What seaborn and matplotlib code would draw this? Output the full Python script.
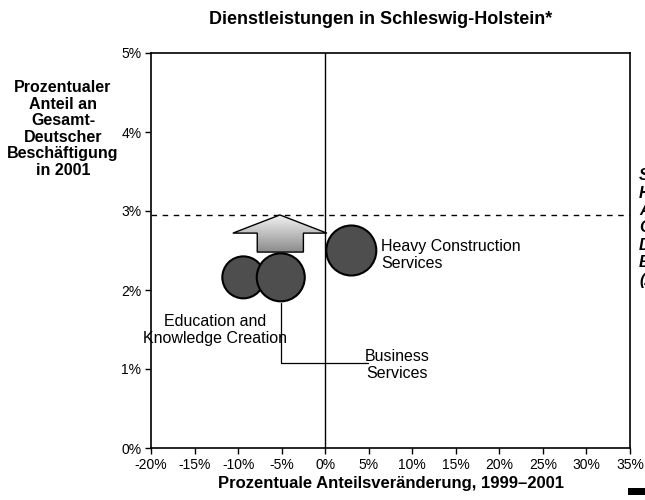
import numpy as np
import pandas as pd
import matplotlib
matplotlib.use("Agg")
import matplotlib.pyplot as plt
from matplotlib.patches import Polygon, Rectangle
from matplotlib.ticker import FuncFormatter
import seaborn as sns

# ---- data ----
clusters = ["Education and\nKnowledge Creation", "Business\nServices", "Heavy Construction\nServices"]
growth = [-9.4, -5.1, 3.0]          # % change in share, 1999-2001
share = [2.16, 2.16, 2.50]          # % of total German employment, 2001
employment = [70, 92, 100]          # relative bubble weight
avg_share = 2.95                    # Schleswig-Holstein overall share
x_ticks = [-20, -15, -10, -5, 0, 5, 10, 15, 20, 25, 30, 35]
y_ticks = [0, 1, 2, 3, 4, 5]

df = pd.DataFrame({"cluster": clusters, "growth": growth, "share": share, "employment": employment})

sns.set_style("white")
plt.rcParams["font.family"] = ["Liberation Sans", "DejaVu Sans"]
plt.rcParams["text.color"] = "black"
plt.rcParams["axes.labelcolor"] = "black"
plt.rcParams["xtick.color"] = "black"
plt.rcParams["ytick.color"] = "black"

fig = plt.figure(figsize=(6.45, 5.0), dpi=100)
ax = fig.add_axes([151 / 645, 1 - 448 / 500, (630 - 151) / 645, (448 - 53) / 500])

ax.set_xlim(-20, 35)
ax.set_ylim(0, 5)

# reference lines
ax.axvline(0, color="black", lw=1.0, zorder=1)
ax.axhline(avg_share, color="black", lw=1.0, ls=(0, (4, 4)), zorder=1)

# gradient arrow (upward)
arrow_pts = [(-7.8, 2.48), (-7.8, 2.72), (-10.6, 2.72), (-5.2, avg_share),
             (0.2, 2.72), (-2.5, 2.72), (-2.5, 2.48)]
poly = Polygon(arrow_pts, closed=True, facecolor="none", edgecolor="black", lw=1.0, zorder=2)
ax.add_patch(poly)
grad = np.linspace(0, 1, 100).reshape(-1, 1)
im = ax.imshow(grad, cmap=matplotlib.colors.LinearSegmentedColormap.from_list("g", ["#8c8c8c", "#f4f4f4"]),
               extent=(-10.6, 0.2, 2.48, avg_share), origin="lower", aspect="auto", zorder=1.5)
im.set_clip_path(poly)

# bubbles
sns.scatterplot(data=df, x="growth", y="share", size="employment", sizes=(913, 1296),
                color="#4e4e4e", edgecolor="black", linewidth=1.5, legend=False, ax=ax, zorder=3)

ax.set_xlim(-20, 35)
ax.set_ylim(0, 5)

# labels
lab_fs = 11.5
ax.text(6.4, 2.44, clusters[2], ha="left", va="center", fontsize=lab_fs, linespacing=1.15)
ax.text(-12.6, 1.49, clusters[0], ha="center", va="center", fontsize=lab_fs, linespacing=1.15)
ax.text(8.3, 1.05, clusters[1], ha="center", va="center", fontsize=lab_fs, linespacing=1.15)
ax.plot([growth[1], growth[1], 4.9], [1.84, 1.08, 1.08], color="black", lw=0.9, zorder=2)

# axes styling
ax.set_xticks(x_ticks)
ax.set_yticks(y_ticks)
ax.xaxis.set_major_formatter(FuncFormatter(lambda v, p: f"{v:.0f}%"))
ax.yaxis.set_major_formatter(FuncFormatter(lambda v, p: f"{v:.0f}%"))
ax.tick_params(axis="both", direction="out", length=4, width=1, labelsize=10, color="black",
               labelcolor="black", bottom=True, left=True, pad=3)
for s in ax.spines.values():
    s.set_color("black")
    s.set_linewidth(1.2)
ax.set_xlabel("Prozentuale Anteilsveränderung, 1999–2001", fontsize=12, fontweight="bold", labelpad=3)
ax.set_ylabel("")

fig.text(381 / 645, 1 - 20 / 500, "Dienstleistungen in Schleswig-Holstein*", ha="center", va="center",
         fontsize=13, fontweight="bold")
fig.text(63 / 645, 1 - 129 / 500,
         "Prozentualer\nAnteil an\nGesamt-\nDeutscher\nBeschäftigung\nin 2001",
         ha="center", va="center", fontsize=11.5, fontweight="bold", linespacing=1.12)
fig.text(639 / 645, 1 - 228 / 500,
         "Schleswig-\nHolsteins\nAnteil an\nGesamt-\nDeutscher\nBeschäftigung\n(2,9%)",
         ha="left", va="center", fontsize=11.5, fontstyle="italic", fontweight="bold", linespacing=1.2)
fig.patches.append(Rectangle((628 / 645, 1 - 495 / 500), 20 / 645, 7 / 500,
                             transform=fig.transFigure, facecolor="black", edgecolor="none"))

fig.savefig("out.png", dpi=100)
